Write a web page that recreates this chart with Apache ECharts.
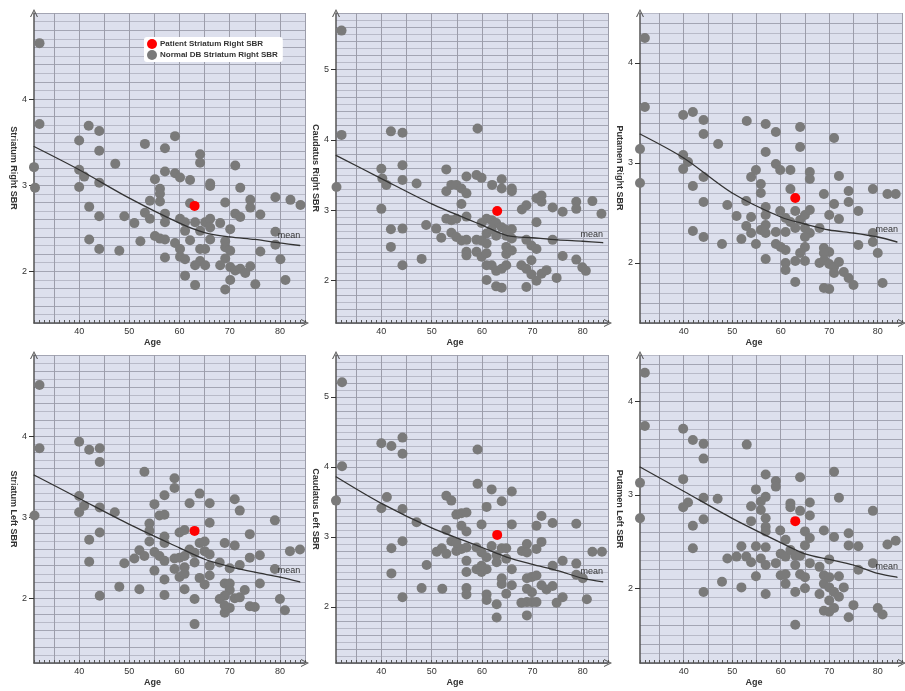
<!DOCTYPE html>
<html>
<head>
<meta charset="utf-8">
<title>SBR vs Age</title>
<script src="https://cdn.jsdelivr.net/npm/echarts@6/dist/echarts.min.js"></script>
<style>
    html, body { margin: 0; padding: 0; background: #fff; }
    #sbrBox { width: 905px; height: 691px; }
</style>
</head>
<body>
<div id="sbrBox"></div>
<script>
// normal database points, [age, SBR]
var striatumRight = [[32.1,4.65],[32.1,3.71],[31,3.21],[31.2,2.97],[40,3.52],[41.9,3.69],[44,3.63],[44,3.40],[40,3.18],[41,3.10],[40,2.98],[44,3.03],[47.2,3.25],[42,2.75],[44,2.64],[42,2.37],[44,2.26],[48,2.24],[49,2.64],[51,2.56],[52.2,2.35],[53.1,3.48],[55.1,3.07],[54.1,2.82],[53.1,2.68],[54.1,2.61],[56.1,2.96],[56.1,2.90],[56.1,2.81],[57.1,2.67],[57.1,2.57],[55.1,2.41],[56.1,2.38],[57.1,2.37],[57.1,2.16],[57.1,3.43],[57.1,3.16],[59.1,3.57],[59.1,3.14],[60.1,3.09],[62.1,3.06],[64.1,3.36],[64.1,3.26],[66.1,3.02],[66.1,2.99],[62.1,2.79],[60.1,2.61],[61.1,2.57],[61.1,2.47],[62.1,2.36],[63.1,2.57],[64.1,2.47],[65.1,2.57],[66.1,2.61],[66.1,2.51],[66.1,2.37],[65.1,2.26],[64.1,2.26],[64.1,2.12],[63.1,2.07],[65.1,2.07],[59.1,2.33],[60.1,2.26],[60.1,2.17],[61.1,2.14],[61.1,1.95],[63.1,1.84],[68.1,2.56],[69.1,2.80],[70.1,2.49],[71.1,3.23],[72.1,2.97],[71.1,2.67],[72.1,2.63],[74.1,2.83],[74.1,2.74],[76.1,2.66],[69.1,2.28],[70.1,2.24],[69.1,2.15],[68.1,2.07],[70.1,2.05],[71.1,2.01],[72.1,2.03],[73.1,1.98],[74.1,2.06],[70.1,1.90],[69.1,1.79],[75.1,1.85],[76.1,2.23],[79.1,2.86],[82.1,2.83],[84.1,2.77],[79.1,2.46],[79.1,2.31],[80.1,2.14],[81.1,1.90],[69.1,2.35]];
var caudatusRight = [[32.1,5.55],[32.1,4.07],[31.1,3.33],[41.9,4.12],[44.2,4.10],[40,3.59],[40.2,3.45],[41,3.36],[44.2,3.64],[44.2,3.43],[47,3.38],[40,3.02],[41.9,2.73],[44.2,2.74],[41.9,2.48],[44.2,2.22],[48,2.31],[48.9,2.79],[50.9,2.74],[51.9,2.61],[52.9,3.58],[52.9,3.27],[53.9,3.36],[54.9,3.36],[55.9,3.31],[56.9,3.24],[56.9,3.48],[55.9,3.09],[52.9,2.88],[53.9,2.86],[54.9,2.88],[56.9,2.91],[53.9,2.68],[54.9,2.62],[55.9,2.57],[56.9,2.58],[56.9,2.41],[56.9,2.36],[59.1,4.16],[58.9,3.50],[59.9,3.46],[62,3.36],[63.9,3.44],[63.9,3.31],[65.9,3.31],[65.9,3.27],[59.9,2.82],[60.9,2.88],[61.9,2.86],[62.8,2.82],[63.9,2.76],[64.8,2.72],[65.9,2.73],[60.9,2.67],[61.9,2.73],[58.9,2.58],[59.9,2.57],[60.9,2.53],[62.8,2.64],[64.8,2.64],[65.9,2.60],[58.9,2.41],[59.9,2.34],[60.9,2.39],[60.9,2.22],[61.9,2.22],[62.8,2.14],[63.9,2.17],[64.8,2.22],[64.8,2.48],[64.8,2.38],[65.9,2.43],[60.9,2.01],[62.8,1.92],[63.9,1.90],[67.9,3.01],[68.8,3.07],[70.8,3.17],[71.8,3.21],[71.8,3.12],[74,3.04],[76,2.98],[70.8,2.83],[68.8,2.58],[69.8,2.50],[70.8,2.45],[74,2.58],[67.8,2.22],[68.8,2.17],[69.8,2.29],[69.8,2.09],[70.8,2.00],[71.8,2.10],[72.8,2.15],[68.8,1.91],[74.8,2.04],[76,2.35],[78.7,3.12],[78.7,3.02],[81.9,3.13],[83.7,2.95],[78.7,2.30],[79.9,2.19],[80.6,2.14]];
var putamenRight = [[32,4.25],[32,3.56],[31,3.14],[31,2.80],[39.9,3.48],[41.9,3.51],[44.1,3.43],[44.1,3.29],[47.1,3.19],[39.9,3.08],[40.9,3.01],[39.9,2.94],[44.1,2.86],[41.9,2.77],[44.1,2.61],[41.9,2.32],[44.1,2.26],[47.9,2.19],[49,2.58],[50.9,2.47],[51.9,2.24],[53,3.42],[54.9,2.93],[53.9,2.86],[52.9,2.62],[53.9,2.46],[52.9,2.37],[53.9,2.30],[54.9,2.19],[55.9,2.79],[55.9,2.70],[56.9,2.56],[56.9,2.48],[55.9,2.33],[56.9,2.38],[56.9,2.30],[56.9,2.04],[56.9,3.39],[56.9,3.11],[59,3.31],[59,2.99],[59.9,2.93],[62,2.93],[64,3.36],[64,3.16],[66,2.91],[66,2.84],[62,2.74],[59.9,2.52],[61,2.45],[62,2.41],[63,2.52],[64,2.43],[65,2.48],[66,2.53],[65,2.35],[66,2.30],[65,2.26],[59,2.31],[59,2.19],[60,2.16],[61,2.13],[61,2.00],[61,1.93],[63,2.02],[65,2.16],[64,2.10],[65,2.02],[63,1.81],[61,2.31],[63,2.35],[68.9,2.69],[68,2.35],[70,2.48],[71,2.59],[71,3.25],[72,2.87],[72,2.44],[74,2.72],[74,2.61],[76,2.52],[68.9,2.15],[70,2.11],[68.9,2.10],[68,2.00],[69,2.03],[70,1.99],[71,1.96],[71,1.90],[72,2.01],[73,1.91],[74,1.85],[75,1.78],[68.9,1.75],[70,1.74],[76,2.18],[79,2.74],[82,2.69],[83.7,2.69],[79,2.30],[79,2.21],[80,2.10],[81,1.80]];
var striatumLeft = [[32.1,4.63],[32.1,3.85],[30.9,3.28],[31.1,3.02],[40,3.93],[42,3.83],[44.1,3.85],[44.1,3.68],[40,3.26],[41,3.14],[40,3.06],[44.1,3.12],[47.1,3.06],[44.1,2.81],[42,2.72],[42,2.45],[44.1,2.03],[48,2.14],[49,2.43],[51,2.49],[52,2.11],[53,3.56],[52,2.59],[53,2.52],[54,2.92],[54,2.83],[54,2.70],[55,3.16],[55,2.57],[55,2.34],[56,3.02],[57,3.03],[57,3.27],[57,2.76],[57,2.68],[56,2.52],[57,2.46],[57,2.23],[57,2.04],[59,3.48],[59,3.36],[60,2.81],[61,2.84],[62,3.17],[64,3.29],[66,3.17],[66,2.93],[59,2.49],[60,2.50],[61,2.52],[62,2.60],[63,2.56],[63,2.44],[64,2.68],[65,2.70],[65,2.58],[66,2.54],[66,2.40],[59,2.36],[60,2.26],[61,2.30],[61,2.38],[61,2.11],[64,2.25],[65,2.17],[66,2.28],[63,1.99],[63,1.68],[69,2.68],[68,2.44],[70,2.37],[71,3.22],[72,3.08],[71,2.65],[72,2.41],[74,2.79],[74,2.50],[76,2.53],[69,2.18],[70,2.18],[70,2.10],[69,2.03],[68,1.99],[71,2.00],[72,2.01],[73,2.10],[70,1.88],[69,1.82],[74,1.90],[75,1.89],[76,2.18],[79,2.96],[82,2.58],[84,2.60],[79,2.36],[80,1.99],[81,1.85],[69,1.91]];
var caudatusLeft = [[32.2,5.21],[32.2,4.01],[31,3.52],[40,4.34],[42,4.30],[44.2,4.42],[44.2,4.19],[40,3.41],[41.1,3.57],[44.2,3.40],[47,3.21],[42,2.84],[44.2,2.94],[42,2.48],[44.2,2.14],[48,2.27],[49,2.60],[51,2.79],[52,2.84],[52.1,2.26],[52.9,2.76],[52.9,3.59],[53.9,3.52],[52.9,3.10],[53.9,2.94],[54.9,2.80],[54.9,3.32],[55.9,3.34],[56.9,3.35],[55.9,3.16],[56.9,3.08],[55.9,2.83],[56.9,2.85],[54.9,2.92],[56.9,2.66],[56.9,2.50],[56.9,2.27],[56.9,2.18],[59.1,4.25],[59.1,3.76],[59.9,3.18],[60.9,3.43],[61.9,3.68],[63.9,3.51],[65.9,3.65],[65.9,3.18],[61.9,2.87],[58.9,2.85],[59.9,2.78],[60.9,2.71],[62.9,2.74],[62.9,2.64],[63.9,2.84],[64.8,2.84],[64.8,2.69],[65.9,2.54],[58.9,2.54],[59.9,2.50],[60.9,2.54],[59.9,2.59],[63.9,2.41],[63.9,2.33],[65.9,2.31],[64.8,2.19],[60.9,2.18],[60.9,2.10],[62.9,2.04],[62.9,1.85],[67.9,2.80],[68.9,2.90],[68.9,2.78],[70.8,3.16],[71.8,3.30],[71.8,2.93],[70.8,2.83],[74,3.20],[74,2.59],[76,2.66],[68.9,2.41],[69.9,2.43],[70.8,2.45],[68.9,2.26],[69.9,2.21],[68.9,2.07],[69.9,2.07],[70.8,2.07],[67.8,2.06],[68.9,1.88],[72.8,2.25],[74,2.30],[74.8,2.06],[76,2.14],[78.7,3.19],[78.7,2.62],[81.9,2.79],[83.8,2.79],[78.7,2.46],[80,2.41],[80.8,2.11],[71.8,2.31]];
var putamenLeft = [[32,4.31],[32,3.74],[31,3.13],[31,2.75],[39.9,3.71],[41.9,3.59],[44.1,3.55],[44.1,3.39],[53,3.54],[39.9,3.17],[40.9,2.92],[39.9,2.87],[44.1,2.97],[47,2.96],[44.1,2.74],[41.9,2.67],[41.9,2.43],[44.1,1.96],[47.9,2.07],[49,2.32],[50.9,2.34],[51.9,2.45],[51.9,2.01],[52.9,2.34],[53.9,2.28],[53.9,2.88],[53.9,2.72],[54.9,3.06],[54.9,2.45],[54.9,2.13],[55.9,2.93],[55.9,2.84],[55.9,2.32],[56.9,3.22],[56.9,2.98],[56.9,2.75],[56.9,2.66],[56.9,2.61],[56.9,2.44],[56.9,2.25],[56.9,1.94],[59,3.15],[59,3.09],[59.9,2.62],[62,2.91],[62,2.87],[64,3.19],[64,2.83],[66,2.92],[66,2.78],[59,2.27],[60,2.37],[61,2.52],[61,2.34],[62,2.41],[63,2.35],[64,2.35],[65,2.46],[65,2.61],[66,2.54],[66,2.27],[63,2.25],[60,2.14],[61,2.15],[61,2.05],[64,2.15],[65,2.12],[65,2.00],[63,1.96],[63,1.61],[68.9,2.62],[68,2.23],[70,2.31],[71,2.55],[71,3.25],[72,2.97],[72,2.13],[74,2.59],[74,2.46],[76,2.45],[68.9,2.14],[68.9,2.05],[70,2.12],[68,1.94],[70,2.01],[71,1.96],[72,1.91],[73,2.01],[68.9,1.76],[70,1.75],[71,1.79],[75,1.82],[74,1.69],[76,2.20],[79,2.83],[82,2.47],[83.7,2.51],[79,2.27],[80,1.79],[81,1.72],[70,1.87]];

// patient values
var patientAge = 63;
var patientValues = [2.76, 2.99, 2.65, 2.83, 3.03, 2.72];

// mean curve of the normal database
var meanAges = [31, 40, 50, 60, 65, 70, 75, 80, 84];
var meanStriatumRight = [3.45, 3.18, 2.85, 2.56, 2.45, 2.40, 2.37, 2.33, 2.30];
var meanCaudatusRight = [3.78, 3.45, 3.09, 2.79, 2.64, 2.61, 2.58, 2.56, 2.54];
var meanPutamenRight = [3.29, 3.05, 2.70, 2.46, 2.39, 2.33, 2.30, 2.26, 2.21];
var meanStriatumLeft = [3.52, 3.23, 2.91, 2.62, 2.48, 2.39, 2.32, 2.26, 2.20];
var meanCaudatusLeft = [3.86, 3.48, 3.13, 2.85, 2.71, 2.61, 2.52, 2.41, 2.36];
var meanPutamenLeft = [3.30, 3.04, 2.75, 2.49, 2.37, 2.31, 2.25, 2.16, 2.12];

var regionNames = ['Striatum Right SBR', 'Caudatus Right SBR', 'Putamen Right SBR',
    'Striatum Left SBR', 'Caudatus Left SBR', 'Putamen Left SBR'];
var yLabelValues = [[2, 3, 4], [2, 3, 4, 5], [2, 3, 4], [2, 3, 4], [2, 3, 4, 5], [2, 3, 4]];
var yMin = [1.4, 1.4, 1.4, 1.2, 1.2, 1.2];
var yMax = [5.0, 5.8, 4.5, 5.0, 5.6, 4.5];

var normalData = [striatumRight, caudatusRight, putamenRight, striatumLeft, caudatusLeft, putamenLeft];
var meanData = [meanStriatumRight, meanCaudatusRight, meanPutamenRight, meanStriatumLeft, meanCaudatusLeft, meanPutamenLeft];

function initSBR() {
    var myChart_sbr = echarts.init(document.getElementById('sbrBox'), null, { renderer: 'canvas' });
    var chevron = 'path://M0,10 L5,0 L10,10 L8.6,10 L5,2.6 L1.4,10 Z';
    var lefts = [34, 336, 640];
    var tops = [13, 355];
    var grids = [], xAxes = [], yAxes = [], series = [];

    for (var i = 0; i < 6; i++) {
        var col = i % 3, row = Math.floor(i / 3);
        grids.push({
            left: lefts[col],
            top: tops[row],
            width: col === 0 ? 271 : 272,
            height: row === 0 ? 310 : 308,
            show: true,
            backgroundColor: '#dde0ed',
            borderWidth: 0
        });
        xAxes.push({
            type: 'value',
            gridIndex: i,
            min: 31,
            max: 85,
            interval: 1,
            name: 'Age',
            nameLocation: 'middle',
            nameGap: 15,
            nameTextStyle: { fontSize: 9, fontWeight: 'bold', color: '#333', padding: [0, 34, 0, 0] },
            axisLine: {
                show: true,
                symbol: ['none', chevron],
                symbolSize: [10, 8],
                lineStyle: { color: '#555', width: 1.5 }
            },
            axisTick: { show: true, inside: true, length: 3, lineStyle: { color: '#555' } },
            axisLabel: {
                fontSize: 9,
                color: '#333',
                margin: 4,
                formatter: function (v) {
                    return Math.round(v) % 10 === 0 ? String(Math.round(v)) : '';
                }
            },
            splitLine: {
                show: true,
                lineStyle: { color: ['transparent', 'transparent', 'transparent', 'transparent', '#9c9daa'], width: 1 }
            }
        });
        // main axis: dense grid lines
        yAxes.push({
            type: 'value',
            gridIndex: i,
            position: 'left',
            min: yMin[i],
            max: yMax[i],
            interval: 0.1,
            name: regionNames[i],
            nameLocation: 'middle',
            nameRotate: -90,
            nameGap: 16,
            nameTextStyle: { fontSize: 9, fontWeight: 'bold', color: '#333' },
            axisLine: {
                show: true,
                symbol: ['none', chevron],
                symbolSize: [10, 8],
                lineStyle: { color: '#555', width: 1.5 }
            },
            axisTick: { show: false },
            axisLabel: { show: false },
            splitLine: { show: true, lineStyle: { color: ['#a3a5b3', '#b8bac8'], width: 1 } }
        });
        // overlay axis: integer ticks + labels
        yAxes.push({
            type: 'value',
            gridIndex: i,
            position: 'left',
            min: yMin[i],
            max: yMax[i],
            axisLine: { show: false },
            axisTick: { show: true, length: 5, customValues: yLabelValues[i], lineStyle: { color: '#333' } },
            axisLabel: { fontSize: 9, color: '#333', margin: 7, customValues: yLabelValues[i] },
            splitLine: { show: false }
        });

        var region = regionNames[i].replace(' SBR', '');
        series.push({
            type: 'scatter',
            name: 'Normal DB ' + regionNames[i],
            xAxisIndex: i,
            yAxisIndex: 2 * i,
            symbolSize: 10,
            itemStyle: { color: '#7a7a7a', opacity: 1 },
            z: 2,
            data: normalData[i]
        });
        series.push({
            type: 'line',
            xAxisIndex: i,
            yAxisIndex: 2 * i,
            smooth: 0.3,
            symbol: 'circle',
            symbolSize: 1,
            showSymbol: true,
            lineStyle: { color: '#333', width: 1.3 },
            itemStyle: { color: '#333' },
            z: 3,
            data: meanAges.map(function (a, k) {
                var item = { value: [a, meanData[i][k]] };
                if (a === 80) {
                    item.label = {
                        show: true,
                        formatter: 'mean',
                        position: 'top',
                        distance: 2,
                        offset: [9, 0],
                        fontSize: 9,
                        color: '#333'
                    };
                }
                return item;
            })
        });
        series.push({
            type: 'scatter',
            name: 'Patient ' + region + ' SBR',
            xAxisIndex: i,
            yAxisIndex: 2 * i,
            symbolSize: 10,
            itemStyle: { color: '#ff0000', opacity: 1 },
            z: 4,
            data: [[patientAge, patientValues[i]]]
        });
    }

    var option_sbr = {
        animation: false,
        backgroundColor: '#fff',
        textStyle: { fontFamily: 'Liberation Sans, Arial, sans-serif' },
        legend: {
            data: ['Patient Striatum Right SBR', 'Normal DB Striatum Right SBR'],
            orient: 'vertical',
            left: 144,
            top: 37,
            icon: 'circle',
            itemWidth: 10,
            itemHeight: 10,
            itemGap: 1,
            padding: [2, 5, 2, 3],
            backgroundColor: '#fff',
            borderRadius: 3,
            textStyle: { fontSize: 8, fontWeight: 'bold', color: '#333', padding: [0, 0, 0, -2] }
        },
        grid: grids,
        xAxis: xAxes,
        yAxis: yAxes,
        series: series
    };
    myChart_sbr.setOption(option_sbr);
}

initSBR();
</script>
</body>
</html>
